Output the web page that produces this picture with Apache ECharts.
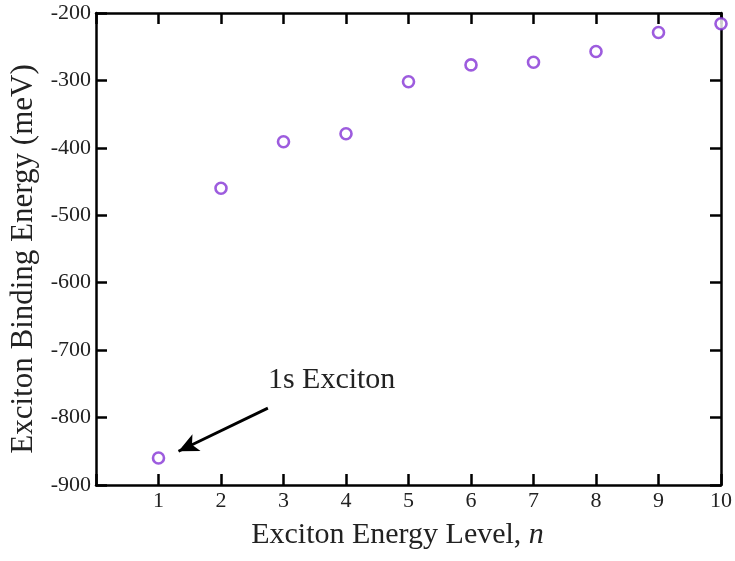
<!DOCTYPE html>
<html>
<head>
<meta charset="utf-8">
<script src="https://cdn.jsdelivr.net/npm/echarts@6/dist/echarts.min.js"></script>
<style>html,body{margin:0;padding:0;background:#fff}#c{width:735px;height:561px}</style>
</head>
<body>
<div id="c"></div>
<script>
var levels = [1, 2, 3, 4, 5, 6, 7, 8, 9, 10];
var bindingEnergy = [-860, -460, -391, -379, -302, -277, -273, -257, -229, -216];
var xTicks = [1, 2, 3, 4, 5, 6, 7, 8, 9, 10];
var yTicks = [-900, -800, -700, -600, -500, -400, -300, -200];
var annotationText = '1s Exciton';
var annotationAnchor = [2.75, -767];
var arrowStart = [2.75, -786];
var arrowEnd = [1.32, -850];

var FONT = '"Liberation Serif", "Times New Roman", serif';
var chart = echarts.init(document.getElementById('c'));
var points = levels.map(function (n, i) { return [n, bindingEnergy[i]]; });

function axisCommon(show) {
  return {
    axisLine: { show: true, onZero: false, lineStyle: { color: '#000', width: 2.5 } },
    axisTick: { show: true, inside: true, length: 11, lineStyle: { color: '#000', width: 2.5 } },
    splitLine: { show: false },
    axisLabel: { show: show, color: '#222', fontFamily: FONT, fontSize: 22 }
  };
}

var option = {
  animation: false,
  backgroundColor: '#fff',
  grid: { left: 96, right: 11, top: 13, bottom: 76, containLabel: false },
  xAxis: [
    Object.assign(axisCommon(true), {
      type: 'value', min: 0, max: 10, interval: 1, position: 'bottom',
      name: 'Exciton Energy Level, {i|n}', nameLocation: 'middle', nameGap: 35,
      nameTextStyle: { color: '#222', fontFamily: FONT, fontSize: 30, padding: [0, 22, 0, 0],
        rich: { i: { fontStyle: 'italic', fontFamily: FONT, fontSize: 30, color: '#222' } } },
      axisLabel: { show: true, color: '#222', fontFamily: FONT, fontSize: 22, margin: 5,
        formatter: function (v) { return xTicks.indexOf(v) >= 0 ? String(v) : ''; } }
    }),
    Object.assign(axisCommon(false), {
      type: 'value', min: 0, max: 10, interval: 1, position: 'top'
    })
  ],
  yAxis: [
    Object.assign(axisCommon(true), {
      type: 'value', min: -900, max: -200, interval: 100, position: 'left',
      name: 'Exciton Binding Energy (meV)', nameLocation: 'middle', nameGap: 55,
      nameTextStyle: { color: '#222', fontFamily: FONT, fontSize: 31, padding: [0, 20, 0, 0] },
      axisLabel: { show: true, color: '#222', fontFamily: FONT, fontSize: 22, margin: 5,
        formatter: function (v) { return yTicks.indexOf(v) >= 0 ? String(v) : ''; } }
    }),
    Object.assign(axisCommon(false), {
      type: 'value', min: -900, max: -200, interval: 100, position: 'right'
    })
  ],
  series: [{
    type: 'scatter',
    data: points,
    symbol: 'circle',
    symbolSize: 11,
    itemStyle: { color: '#fff', borderColor: '#8433d6', borderWidth: 2.6 },
    markLine: {
      silent: true,
      symbol: ['none', 'arrow'],
      symbolSize: [14, 20],
      lineStyle: { color: '#000', width: 2.8, type: 'solid' },
      label: { show: false },
      data: [[{ coord: arrowStart }, { coord: arrowEnd }]]
    }
  }]
};
chart.setOption(option);
var p = chart.convertToPixel({ xAxisIndex: 0, yAxisIndex: 0 }, annotationAnchor);
chart.setOption({
  graphic: [{
    type: 'text', x: p[0], y: p[1], silent: true,
    style: { text: annotationText, fill: '#222', font: '30px ' + FONT, textAlign: 'left', textVerticalAlign: 'bottom' }
  }]
});
</script>
</body>
</html>
